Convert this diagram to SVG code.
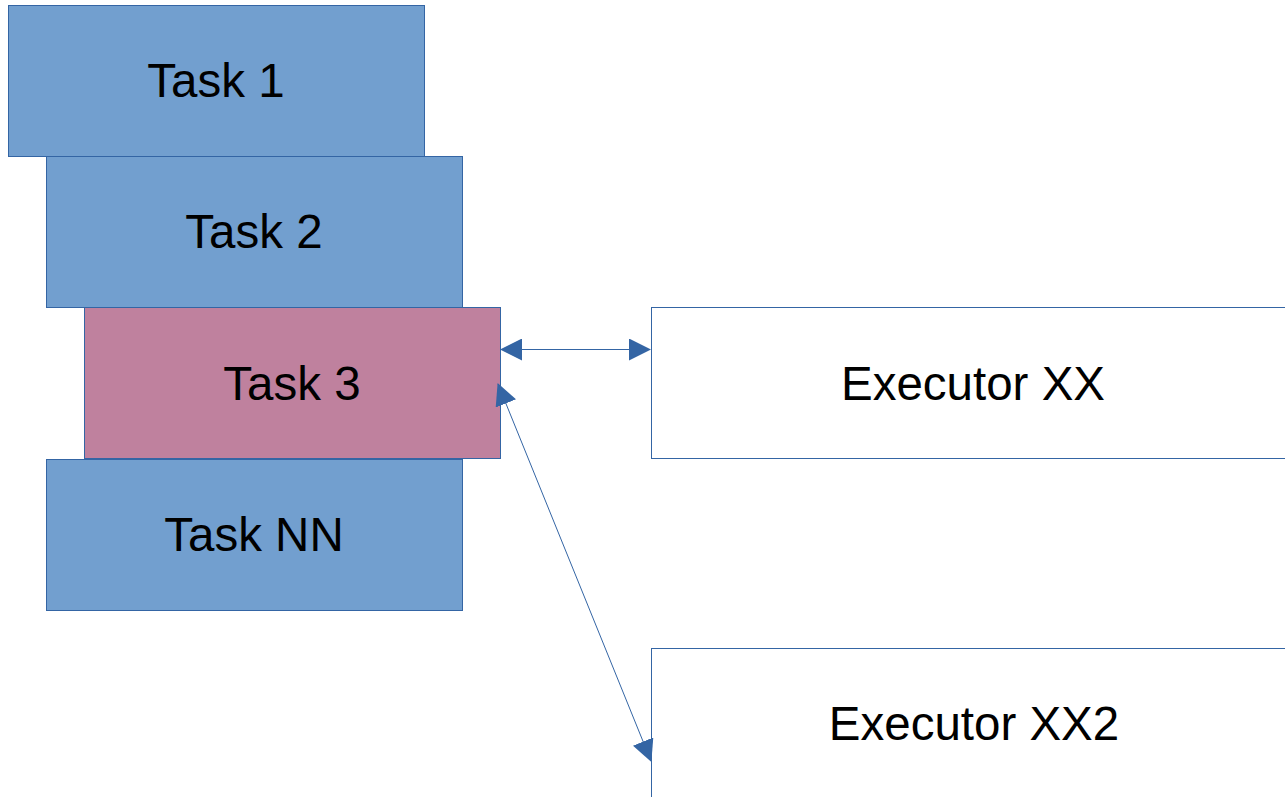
<svg xmlns="http://www.w3.org/2000/svg" width="1285" height="797" viewBox="0 0 1285 797">
<style>
.task{fill:#729fcf;stroke:#3465a4;stroke-width:1}
.cur{fill:#bf819e;stroke:#3465a4;stroke-width:1}
.exec{fill:#ffffff;stroke:#3465a4;stroke-width:1}
.lbl{font-family:"Liberation Sans",Arial,sans-serif;font-size:47.5px;fill:#000000;text-anchor:middle}
.conn{fill:none;stroke:#3465a4;stroke-width:1}
</style>
<defs>
<marker id="ah" markerUnits="userSpaceOnUse" markerWidth="22" markerHeight="22" viewBox="0 0 22 22" refX="21" refY="11" orient="auto-start-reverse">
<path d="M0,0 L22,11 L0,22 z" fill="#3465a4"/>
</marker>
</defs>
<rect width="1285" height="797" fill="#ffffff"/>
<g id="task1"><rect class="task" x="8.5" y="5.5" width="416" height="151"/><text class="lbl" x="216" y="97">Task 1</text></g>
<g id="task2"><rect class="task" x="46.5" y="156.5" width="416" height="151"/><text class="lbl" x="254" y="248">Task 2</text></g>
<g id="task3"><rect class="cur" x="84.5" y="307.5" width="416" height="151"/><text class="lbl" x="292" y="400">Task 3</text></g>
<g id="taskNN"><rect class="task" x="46.5" y="459.5" width="416" height="151"/><text class="lbl" x="254" y="551">Task NN</text></g>
<g id="executorXX"><rect class="exec" x="651.5" y="307.5" width="700" height="151"/><text class="lbl" x="973" y="400">Executor XX</text></g>
<g id="executorXX2"><rect class="exec" x="651.5" y="648.5" width="700" height="200"/><text class="lbl" x="974" y="740">Executor XX2</text></g>
<g id="connectors">
<line class="conn" x1="501" y1="349.5" x2="650" y2="349.5" marker-start="url(#ah)" marker-end="url(#ah)"/>
<line class="conn" x1="498" y1="384" x2="651" y2="761" marker-start="url(#ah)" marker-end="url(#ah)"/>
</g>
</svg>
